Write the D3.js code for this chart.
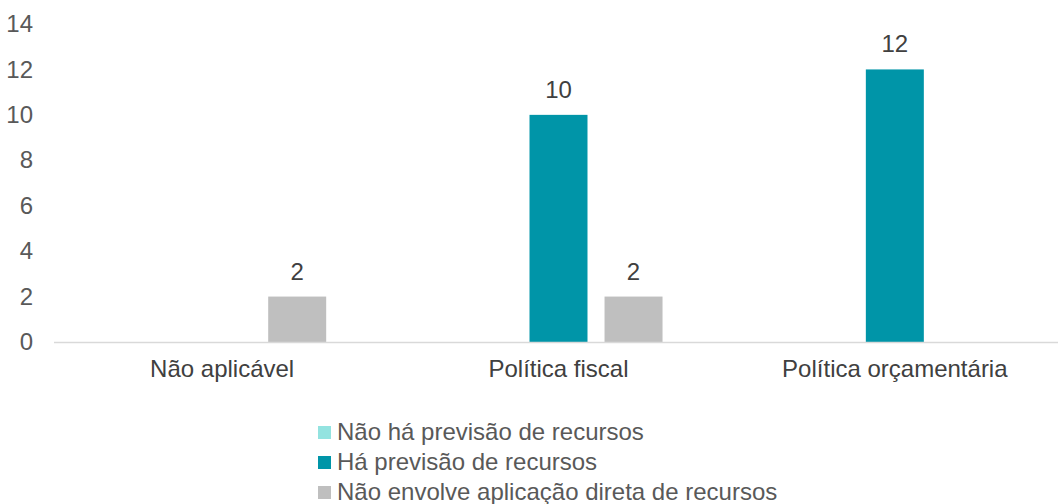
<!DOCTYPE html>
<html>
<head>
<meta charset="utf-8">
<script src="https://cdn.jsdelivr.net/npm/d3@7"></script>
<style>
  html, body { margin: 0; padding: 0; background: #fff; }
  svg { display: block; font-family: "Liberation Sans", Arial, sans-serif; }
</style>
</head>
<body>
<svg id="chart" width="1058" height="504"></svg>
<script>
// Categories along the x axis
const categories = ["Não aplicável", "Política fiscal", "Política orçamentária"];
// Series names (legend order)
const seriesNames = [
  "Não há previsão de recursos",
  "Há previsão de recursos",
  "Não envolve aplicação direta de recursos"
];
// Values per series, one entry per category
const semPrevisao = [0, 0, 0];
const comPrevisao = [0, 10, 12];
const naoEnvolve = [2, 2, 0];
const yTicks = [0, 2, 4, 6, 8, 10, 12, 14];

const seriesValues = [semPrevisao, comPrevisao, naoEnvolve];
const colors = ["#93E3E0", "#0095A8", "#BFBFBF"];
const fontSize = "24px";

const svg = d3.select("#chart");
const plotLeft = 54, plotRight = 1063, plotTop = 24, plotBottom = 342;

const x = d3.scaleBand().domain(categories).range([plotLeft, plotRight]).paddingInner(0).paddingOuter(0);
const x1 = d3.scaleBand().domain(d3.range(seriesNames.length))
  .range([0, x.bandwidth()]).paddingInner(0.227).paddingOuter(0.855);
const y = d3.scaleLinear().domain([0, 14]).range([plotBottom, plotTop]);

// y axis labels
const yAxis = svg.append("g")
  .attr("transform", `translate(${plotLeft},0)`)
  .call(d3.axisLeft(y).tickValues(yTicks).tickSize(0).tickPadding(21));
yAxis.select(".domain").remove();
yAxis.selectAll("text")
  .attr("fill", "#595959")
  .style("font-size", fontSize)
  .style("font-family", "'Liberation Sans', Arial, sans-serif");

// bars
const groups = svg.append("g").selectAll("g")
  .data(categories)
  .join("g")
  .attr("transform", d => `translate(${x(d)},0)`);

groups.selectAll("rect")
  .data((c, ci) => seriesValues.map((vals, si) => ({ si, v: vals[ci] })))
  .join("rect")
  .attr("x", d => x1(d.si))
  .attr("width", x1.bandwidth())
  .attr("y", d => y(d.v))
  .attr("height", d => y(0) - y(d.v))
  .attr("fill", d => colors[d.si]);

// value labels
groups.selectAll("text.val")
  .data((c, ci) => seriesValues.map((vals, si) => ({ si, v: vals[ci] })).filter(d => d.v > 0))
  .join("text")
  .attr("class", "val")
  .attr("x", d => x1(d.si) + x1.bandwidth() / 2)
  .attr("y", d => y(d.v) - 17)
  .attr("text-anchor", "middle")
  .attr("fill", "#404040")
  .style("font-size", fontSize)
  .text(d => d.v);

// baseline
svg.append("line")
  .attr("x1", plotLeft).attr("x2", 1058)
  .attr("y1", y(0) + 0.5).attr("y2", y(0) + 0.5)
  .attr("stroke", "#D9D9D9").attr("stroke-width", 1.3);

// x axis labels
const xAxis = svg.append("g")
  .attr("transform", `translate(0,${plotBottom})`)
  .call(d3.axisBottom(x).tickSize(0).tickPadding(18));
xAxis.select(".domain").remove();
xAxis.selectAll("text")
  .attr("fill", "#404040")
  .style("font-size", fontSize)
  .style("font-family", "'Liberation Sans', Arial, sans-serif");

// legend
const legend = svg.append("g").attr("transform", "translate(318,432)");
const items = legend.selectAll("g").data(seriesNames).join("g")
  .attr("transform", (d, i) => `translate(0,${i * 30})`);
items.append("rect")
  .attr("x", 0).attr("y", -6).attr("width", 13).attr("height", 13)
  .attr("fill", (d, i) => colors[i]);
items.append("text")
  .attr("x", 19).attr("y", 0).attr("dy", "0.35em")
  .attr("fill", "#595959")
  .style("font-size", fontSize)
  .text(d => d);
</script>
</body>
</html>
